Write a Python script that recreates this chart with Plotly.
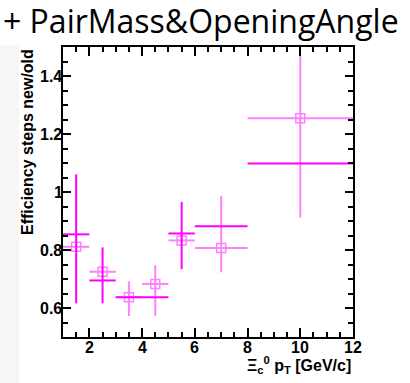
import plotly.graph_objects as go

# Series A: open squares (light magenta), fine bins
a_x = [1.5, 2.5, 3.5, 4.5, 5.5, 7.0, 10.0]
a_y = [0.811, 0.725, 0.6375, 0.683, 0.833, 0.807, 1.254]
a_xerr = [0.5, 0.5, 0.5, 0.5, 0.5, 1.0, 2.0]
a_yerr_up = [0.0, 0.0, 0.055, 0.065, 0.0, 0.18, 0.217]
a_yerr_dn = [0.0, 0.0, 0.065, 0.11, 0.0, 0.084, 0.342]

# Series B: no marker (magenta), coarse bins
b_x = [1.5, 2.5, 4.0, 5.5, 7.0, 10.0]
b_y = [0.854, 0.695, 0.6375, 0.857, 0.882, 1.098]
b_xerr = [0.5, 0.5, 1.0, 0.5, 1.0, 2.0]
b_yerr_up = [0.207, 0.114, 0.0, 0.109, 0.0, 0.0]
b_yerr_dn = [0.238, 0.079, 0.0, 0.123, 0.0, 0.0]

x_ticks = [2, 4, 6, 8, 10, 12]
x_ticktext = ["2", "4", "6", "8", "10", "12"]
y_ticks = [0.6, 0.8, 1.0, 1.2, 1.4]
y_ticktext = ["0.6", "0.8", "1", "1.2", "1.4"]

LIGHT = "#ff80ff"
DARK = "#ff00ff"

fig = go.Figure()
fig.add_trace(go.Scatter(
    x=a_x, y=a_y, mode="markers",
    marker=dict(symbol="square-open", size=9, color=LIGHT, line=dict(width=1.5, color=LIGHT)),
    error_x=dict(type="data", array=a_xerr, color=LIGHT, thickness=2, width=0),
    error_y=dict(type="data", array=a_yerr_up, arrayminus=a_yerr_dn, symmetric=False,
                 color=LIGHT, thickness=2, width=0),
    showlegend=False,
))
fig.add_trace(go.Scatter(
    x=b_x, y=b_y, mode="markers",
    marker=dict(size=1, color="rgba(0,0,0,0)"),
    error_x=dict(type="data", array=b_xerr, color=DARK, thickness=2, width=0),
    error_y=dict(type="data", array=b_yerr_up, arrayminus=b_yerr_dn, symmetric=False,
                 color=DARK, thickness=2, width=0),
    showlegend=False,
))

L, R, T, B = 63, 57, 47, 46
W, H = 410, 383
pw, ph = W - L - R, H - T - B
FS = 16
# Liberation Sans Bold advance widths (per 1000 em) for right-aligning labels
ADV = {"0": 556, "1": 556, "2": 556, "4": 556, "6": 556, "8": 556, ".": 278}

labfont = dict(family="Liberation Sans", size=FS, color="black", weight="bold")

annotations = []
for v, t in zip(x_ticks, x_ticktext):
    annotations.append(dict(text=t, xref="x", yref="paper", x=v, y=-(347 - T - ph) / ph,
                            xanchor="center", yanchor="middle", showarrow=False,
                            font=labfont))
for v, t in zip(y_ticks, y_ticktext):
    wpx = sum(ADV[c] for c in t) * FS / 1000.0
    left_px = 61.5 - wpx
    annotations.append(dict(text=t, xref="paper", yref="y", x=(left_px - L) / pw, y=v,
                            xanchor="left", align="left", yanchor="middle",
                            borderpad=0, showarrow=False, font=labfont))
annotations += [
    dict(text="Efficiency steps new/old", xref="paper", yref="paper",
         x=(27 - L) / pw, y=1.0, xanchor="center", yanchor="top", textangle=-90,
         showarrow=False, font=labfont),
    dict(text="Ξ<sub>c</sub><sup>0</sup> p<sub>T</sub> [GeV/c]", xref="paper",
         yref="paper", x=1.0, y=-(365 - T - ph) / ph, xanchor="right",
         yanchor="middle", showarrow=False, font=labfont),
]

fig.update_layout(
    width=W, height=H,
    margin=dict(l=L, r=R, t=T, b=B, pad=0),
    paper_bgcolor="white", plot_bgcolor="white",
    title=dict(text="+ PairMass&OpeningAngle", x=3 / W, xanchor="left",
               xref="container", yref="container", y=1 - 22 / H, yanchor="middle",
               font=dict(family="Open Sans", size=32, color="black")),
    xaxis=dict(range=[1, 12], tickvals=x_ticks, ticks="inside", ticklen=9, tickwidth=1.5,
               tickcolor="black", showline=True, linecolor="black", linewidth=1.5,
               mirror="ticks", showgrid=False, zeroline=False, showticklabels=False,
               automargin=False,
               minor=dict(dtick=0.5, ticks="inside", ticklen=5, tickwidth=1.5,
                          tickcolor="black", showgrid=False)),
    yaxis=dict(range=[0.5, 1.5], tickvals=y_ticks, ticks="inside",
               ticklen=8, tickwidth=1.5, tickcolor="black", showline=True,
               linecolor="black", linewidth=1.5, mirror="ticks", showgrid=False,
               zeroline=False, showticklabels=False, automargin=False,
               minor=dict(dtick=0.05, ticks="inside", ticklen=5, tickwidth=1.5,
                          tickcolor="black", showgrid=False)),
    shapes=[dict(type="rect", xref="paper", yref="paper",
                 x0=(0 - L) / pw, x1=(19 - L) / pw, y0=-(H - T - ph) / ph - 0.01,
                 y1=(T + ph - 45) / ph, fillcolor="#f6f6f6", line=dict(width=0),
                 layer="below")],
    annotations=annotations,
)

fig.write_html("out.html")
